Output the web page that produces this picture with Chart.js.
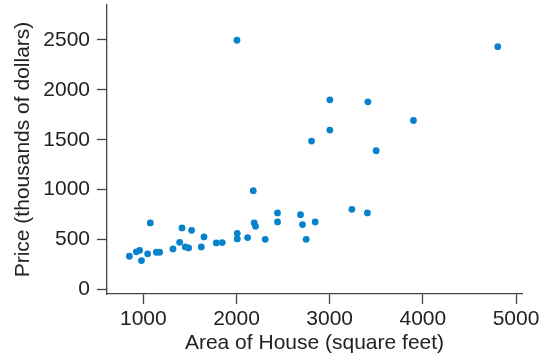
<!DOCTYPE html>
<html>
<head>
<meta charset="utf-8">
<script src="https://cdn.jsdelivr.net/npm/chart.js@4"></script>
<style>
  html, body { margin: 0; padding: 0; background: #fff; }
  #wrap { width: 542px; height: 360px; }
</style>
</head>
<body>
<div id="wrap"><canvas id="houseChart" width="542" height="360"></canvas></div>
<script>
// house area (sq ft) and price (thousands of dollars)
var area = [850, 925, 960, 980, 1046, 1075, 1140, 1175, 1318, 1390, 1415, 1450, 1486, 1518,
  1622, 1651, 1783, 1847, 2008, 2008, 2119, 2190, 2204, 2308, 2440, 2440, 2180, 2687, 2708,
  2844, 2748, 3238, 3405, 3499, 2005, 4804, 3002, 3410, 3899, 3002, 2805];
var price = [333, 377, 393, 290, 357, 667, 373, 373, 407, 473, 617, 427, 417, 593,
  427, 527, 467, 470, 563, 507, 520, 667, 633, 503, 767, 677, 990, 750, 650,
  677, 503, 803, 767, 1390, 2497, 2433, 1900, 1880, 1693, 1597, 1487];

var xTicks = [1000, 2000, 3000, 4000, 5000];
var yTicks = [0, 500, 1000, 1500, 2000, 2500];

var points = area.map(function (a, i) {
  return { x: a, y: price[i] };
});

var axisColor = '#444';
var fontSpec = { family: 'Liberation Sans', size: 21 };

// plain numbers, no thousands separator
function plain(value) {
  return String(value);
}

var ctx = document.getElementById('houseChart').getContext('2d');
var houseChart = new Chart(ctx, {
  type: 'scatter',
  data: {
    datasets: [
      {
        data: points,
        backgroundColor: '#0783cd',
        borderColor: '#0783cd',
        pointRadius: 3.4,
        pointBorderWidth: 0,
      },
    ],
  },
  options: {
    responsive: false,
    animation: false,
    layout: { padding: { top: 5, right: 20, left: 0, bottom: 0 } },
    plugins: {
      legend: { display: false },
      tooltip: { enabled: false },
    },
    scales: {
      x: {
        type: 'linear',
        min: 610,
        max: 5064,
        afterBuildTicks: function (axis) {
          axis.ticks = xTicks.map(function (v) { return { value: v }; });
        },
        afterFit: function (axis) {
          axis.height = 66;
          axis.paddingLeft = 0;
          axis.paddingRight = 0;
        },
        border: { display: true, color: axisColor, width: 1.3 },
        grid: { drawOnChartArea: false, tickLength: 10, tickColor: axisColor, tickWidth: 1.3 },
        ticks: { color: '#222', font: fontSpec, padding: 3, maxRotation: 0, callback: plain },
        title: {
          display: true,
          text: 'Area of House (square feet)',
          color: '#222',
          font: fontSpec,
          padding: { top: 0, bottom: 4 },
        },
      },
      y: {
        type: 'linear',
        min: -45,
        max: 2850,
        afterBuildTicks: function (axis) {
          axis.ticks = yTicks.map(function (v) { return { value: v }; });
        },
        afterFit: function (axis) {
          axis.width = 107;
          axis.paddingTop = 0;
          axis.paddingBottom = 0;
        },
        border: { display: true, color: axisColor, width: 1.3 },
        grid: { drawOnChartArea: false, tickLength: 10, tickColor: axisColor, tickWidth: 1.3 },
        ticks: { color: '#222', font: fontSpec, padding: 7, callback: plain },
        title: {
          display: true,
          text: 'Price (thousands of dollars)',
          color: '#222',
          font: fontSpec,
          padding: { top: 11, bottom: 0 },
        },
      },
    },
  },
});
</script>
</body>
</html>
